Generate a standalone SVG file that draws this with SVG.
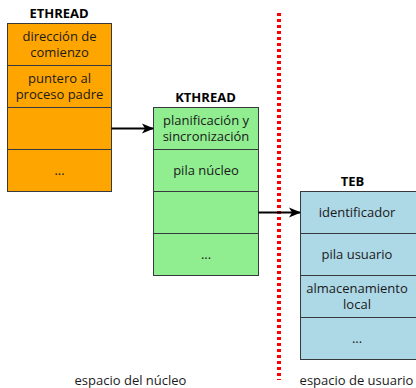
<svg xmlns="http://www.w3.org/2000/svg" width="416" height="388" viewBox="0 0 416 388">
  <defs>
    <marker id="arrow" viewBox="0 0 12 12" refX="11" refY="6" markerWidth="12" markerHeight="12" markerUnits="userSpaceOnUse" orient="auto">
      <path d="M0,1 L12,6 L0,11 L3,6 Z" fill="#000"/>
    </marker>
    <style>
      text { font-family: "Open Sans", "Noto Sans", "DejaVu Sans", sans-serif; font-size: 13px; fill: #1a1a1a; text-anchor: middle; }
      .title { font-weight: bold; font-size: 13px; fill: #000; }
      .cell { stroke: #36393d; stroke-width: 1; }
      .eth { fill: #ffa500; }
      .kth { fill: #90ee90; }
      .teb { fill: #add8e6; }
      .link { stroke: #000; stroke-width: 2; fill: none; marker-end: url(#arrow); }
    </style>
  </defs>

  <!-- boundary between kernel space and user space -->
  <line x1="279" y1="13" x2="279" y2="380" stroke="#ff0000" stroke-width="4" stroke-dasharray="3 3"/>

  <g id="ethread">
    <text class="title" x="59" y="18">ETHREAD</text>
    <rect class="cell eth" x="7.5" y="23.5" width="104" height="42"/>
    <rect class="cell eth" x="7.5" y="65.5" width="104" height="42"/>
    <rect class="cell eth" x="7.5" y="107.5" width="104" height="42"/>
    <rect class="cell eth" x="7.5" y="149.5" width="104" height="42"/>
    <text x="59.5" y="41">dirección de</text>
    <text x="59.5" y="57">comienzo</text>
    <text x="59.5" y="83">puntero al</text>
    <text x="59.5" y="99">proceso padre</text>
    <text x="59.5" y="175">...</text>
  </g>

  <g id="kthread">
    <text class="title" x="205.5" y="102">KTHREAD</text>
    <rect class="cell kth" x="153.5" y="107.5" width="105" height="42"/>
    <rect class="cell kth" x="153.5" y="149.5" width="105" height="42"/>
    <rect class="cell kth" x="153.5" y="191.5" width="105" height="42"/>
    <rect class="cell kth" x="153.5" y="233.5" width="105" height="42"/>
    <text x="206" y="125">planificación y</text>
    <text x="206" y="141">sincronización</text>
    <text x="206" y="175">pila núcleo</text>
    <text x="206" y="259">...</text>
  </g>

  <g id="teb">
    <text class="title" x="352.5" y="186">TEB</text>
    <rect class="cell teb" x="300.5" y="191.5" width="120" height="42"/>
    <rect class="cell teb" x="300.5" y="233.5" width="120" height="42"/>
    <rect class="cell teb" x="300.5" y="275.5" width="120" height="42"/>
    <rect class="cell teb" x="300.5" y="317.5" width="120" height="42"/>
    <text x="357" y="217">identificador</text>
    <text x="357" y="259">pila usuario</text>
    <text x="357" y="293">almacenamiento</text>
    <text x="357" y="309">local</text>
    <text x="357" y="343">...</text>
  </g>

  <g id="connectors">
    <line class="link" x1="111.5" y1="128.5" x2="153" y2="128.5"/>
    <line class="link" x1="258.5" y1="212.5" x2="300" y2="212.5"/>
  </g>

  <g id="regions">
    <text x="130.5" y="385">espacio del núcleo</text>
    <text x="356.5" y="385">espacio de usuario</text>
  </g>
</svg>
